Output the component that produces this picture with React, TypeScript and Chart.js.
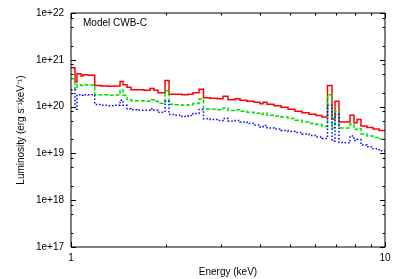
import React, { useEffect, useRef } from 'react';
import { Chart, registerables } from 'chart.js';

Chart.register(...registerables);

// Bin left edges in keV (last bin ends at energyMax)
const energyEdges = [
  1.0, 1.03, 1.045, 1.076, 1.092, 1.133, 1.19, 1.246, 1.312, 1.371,
  1.433, 1.464, 1.508, 1.553, 1.623, 1.708, 1.785, 1.838, 1.893, 1.993,
  2.052, 2.144, 2.257, 2.359, 2.446, 2.557, 2.642, 2.772, 2.917, 3.049,
  3.162, 3.33, 3.453, 3.635, 3.826, 4.0, 4.088, 4.21, 4.432, 4.666,
  4.911, 5.169, 5.441, 5.728, 6.029, 6.301, 6.56, 6.78, 6.931, 7.137,
  7.404, 7.737, 7.967, 8.144, 8.386, 8.764, 9.158, 9.57,
];
const energyMax = 10;

// Luminosity (erg s^-1 keV^-1)
const redValues = [
  6.8e20, 3.37e20, 5.03e20, 4.51e20, 4.79e20, 4.67e20, 2.84e20, 2.77e20, 2.71e20, 2.77e20,
  3.45e20, 2.94e20, 2.58e20, 2.28e20, 2.28e20, 2.23e20, 2.45e20, 2.23e20, 1.97e20, 3.63e20,
  1.83e20, 1.83e20, 1.79e20, 1.83e20, 1.97e20, 2.34e20, 1.54e20, 1.51e20, 1.47e20, 1.66e20,
  1.4e20, 1.47e20, 1.37e20, 1.3e20, 1.24e20, 1.15e20, 1.24e20, 1.12e20, 1.045e20, 9.71e19,
  8.81e19, 7.99e19, 7.42e19, 6.9e19, 6.42e19, 5.96e19, 2.84e20, 5.41e19, 1.3e20, 4.67e19,
  4.67e19, 6.57e19, 4.52e19, 5.33e19, 3.84e19, 3.57e19, 3.32e19, 3.09e19,
];
const greenValues = [
  3.94e20, 2.34e20, 2.94e20, 2.84e20, 2.94e20, 2.91e20, 1.8e20, 1.79e20, 1.74e20, 1.76e20,
  2.3e20, 1.74e20, 1.41e20, 1.33e20, 1.33e20, 1.3e20, 1.4e20, 1.3e20, 1.18e20, 2.19e20,
  1.12e20, 1.1e20, 1.07e20, 1.1e20, 1.16e20, 1.46e20, 8.94e19, 8.81e19, 8.6e19, 9.39e19,
  8.27e19, 8.6e19, 7.99e19, 7.61e19, 7.25e19, 6.8e19, 7.25e19, 6.57e19, 6.26e19, 5.96e19,
  5.54e19, 5.08e19, 4.67e19, 4.38e19, 4.13e19, 3.75e19, 1.8e20, 3.49e19, 7.99e19, 3.49e19,
  3.49e19, 4.24e19, 3.24e19, 3.37e19, 2.6e19, 2.36e19, 2.19e19, 2.04e19,
];
const blueValues = [
  2.3e20, 8.81e19, 1.8e20, 1.74e20, 1.8e20, 1.79e20, 1.11e20, 1.07e20, 1.045e20, 1.07e20,
  1.37e20, 1.07e20, 9.03e19, 8.6e19, 8.39e19, 8.39e19, 9.03e19, 8.39e19, 7.61e19, 1.3e20,
  6.8e19, 6.57e19, 6.11e19, 6.42e19, 7.14e19, 8.68e19, 5.49e19, 5.28e19, 5.03e19, 5.6e19,
  4.91e19, 5.03e19, 4.67e19, 4.34e19, 4.04e19, 3.66e19, 3.94e19, 3.49e19, 3.32e19, 3.09e19,
  2.94e19, 2.8e19, 2.6e19, 2.42e19, 2.25e19, 2.09e19, 1.07e20, 1.85e19, 6.9e19, 1.7e19,
  1.68e19, 2.36e19, 1.89e19, 1.97e19, 1.52e19, 1.38e19, 1.25e19, 1.14e19,
];

const seriesLabels = ['red', 'green', 'blue'];
const titleText = 'Model CWB-C';
const xAxisTitle = 'Energy (keV)';
const yAxisTitle = 'Luminosity (erg s\u207B\u00B9keV\u207B\u00B9)';

const xTickValues = [1, 2, 3, 4, 5, 6, 7, 8, 9, 10];
const xMajorTicks = [1, 10];
const xTickLabels = ['1', '10'];
const yMajorTicks = [1e17, 1e18, 1e19, 1e20, 1e21, 1e22];
const yTickLabels = ['1e+17', '1e+18', '1e+19', '1e+20', '1e+21', '1e+22'];
const yMinorMultipliers = [2, 5, 8];

const FONT = '"Liberation Sans", Arial, Helvetica, sans-serif';

function toSteps(values: number[]) {
  const pts = energyEdges.map((e, i) => ({ x: e, y: values[i] }));
  pts.push({ x: energyMax, y: values[values.length - 1] });
  return pts;
}

const frameAndTicks = {
  id: 'frameAndTicks',
  afterDatasetsDraw(chart: any) {
    const { ctx, chartArea } = chart;
    const xs = chart.scales.x;
    const ys = chart.scales.y;
    const { left, right, top, bottom } = chartArea;
    ctx.save();
    ctx.strokeStyle = '#000';
    ctx.lineWidth = 1;
    ctx.beginPath();
    // x ticks (bottom and top)
    xTickValues.forEach((v) => {
      const len = xMajorTicks.includes(v) ? 5 : 2.5;
      const px = Math.round(xs.getPixelForValue(v)) + 0.5;
      ctx.moveTo(px, bottom);
      ctx.lineTo(px, bottom - len);
      ctx.moveTo(px, top);
      ctx.lineTo(px, top + len);
    });
    // y ticks (left and right)
    const yTicks: { v: number; major: boolean }[] = [];
    yMajorTicks.forEach((d, i) => {
      yTicks.push({ v: d, major: true });
      if (i < yMajorTicks.length - 1) yMinorMultipliers.forEach((m) => yTicks.push({ v: d * m, major: false }));
    });
    yTicks.forEach(({ v, major }) => {
      const len = major ? 5 : 2.5;
      const py = Math.round(ys.getPixelForValue(v)) + 0.5;
      ctx.moveTo(left, py);
      ctx.lineTo(left + len, py);
      ctx.moveTo(right, py);
      ctx.lineTo(right - len, py);
    });
    ctx.stroke();
    // frame
    ctx.beginPath();
    ctx.rect(left, top, right - left, bottom - top);
    ctx.stroke();
    // inside title
    ctx.fillStyle = '#000';
    ctx.font = `10px ${FONT}`;
    ctx.textAlign = 'left';
    ctx.textBaseline = 'middle';
    ctx.fillText(titleText, left + 12, top + 10.5);
    ctx.restore();
  },
};

export default function App() {
  const canvasRef = useRef<HTMLCanvasElement | null>(null);

  useEffect(() => {
    document.body.style.margin = '0';
    const canvas = canvasRef.current;
    if (!canvas) return;
    const font = { family: FONT, size: 10 };
    const chart = new Chart(canvas, {
      type: 'line',
      data: {
        datasets: [
          {
            label: seriesLabels[0],
            data: toSteps(redValues),
            borderColor: '#ff0000',
            borderWidth: 1.5,
            stepped: true,
            pointRadius: 0,
            fill: false,
            order: 3,
          },
          {
            label: seriesLabels[1],
            data: toSteps(greenValues),
            borderColor: '#00dd00',
            borderWidth: 1.5,
            borderDash: [4, 2],
            stepped: true,
            pointRadius: 0,
            fill: false,
            order: 2,
          },
          {
            label: seriesLabels[2],
            data: toSteps(blueValues),
            borderColor: '#0000ff',
            borderWidth: 1.5,
            borderDash: [1.5, 2],
            stepped: true,
            pointRadius: 0,
            fill: false,
            order: 1,
          },
        ],
      } as any,
      options: {
        animation: false,
        responsive: false,
        events: [],
        layout: { padding: { top: 11, right: 15, left: 0, bottom: 0 } },
        plugins: { legend: { display: false }, tooltip: { enabled: false }, title: { display: false } },
        scales: {
          x: {
            type: 'logarithmic',
            min: 1,
            max: 10,
            position: 'bottom',
            grid: { display: false, drawTicks: false },
            border: { display: false },
            ticks: {
              font,
              color: '#000',
              padding: 5,
              autoSkip: false,
              maxRotation: 0,
              minRotation: 0,
              callback: (v: any) => {
                const i = xMajorTicks.indexOf(Number(v));
                return i >= 0 ? xTickLabels[i] : '';
              },
            },
            afterBuildTicks: (s: any) => {
              s.ticks = xTickValues.map((v) => ({ value: v }));
            },
            afterFit: (s: any) => {
              s.height = 32;
            },
            title: { display: true, text: xAxisTitle, font, color: '#000', padding: { top: 0, bottom: 1 } },
          },
          y: {
            type: 'logarithmic',
            min: 1e17,
            max: 1e22,
            position: 'left',
            grid: { display: false, drawTicks: false },
            border: { display: false },
            ticks: {
              font,
              color: '#000',
              padding: 7,
              autoSkip: false,
              callback: (v: any) => {
                const i = yMajorTicks.findIndex((m) => Math.abs(m - Number(v)) / m < 1e-6);
                return i >= 0 ? yTickLabels[i] : '';
              },
            },
            afterBuildTicks: (s: any) => {
              s.ticks = yMajorTicks.map((v) => ({ value: v }));
            },
            afterFit: (s: any) => {
              s.width = 71;
            },
            title: { display: true, text: yAxisTitle, font, color: '#000', padding: { top: 15.5, bottom: 0 } },
          },
        },
      } as any,
      plugins: [frameAndTicks],
    });
    return () => chart.destroy();
  }, []);

  return (
    <div style={{ position: 'fixed', left: 0, top: 0, width: 400, height: 279, background: '#fff' }}>
      <canvas ref={canvasRef} width={400} height={279} style={{ display: 'block', width: 400, height: 279 }} />
    </div>
  );
}
